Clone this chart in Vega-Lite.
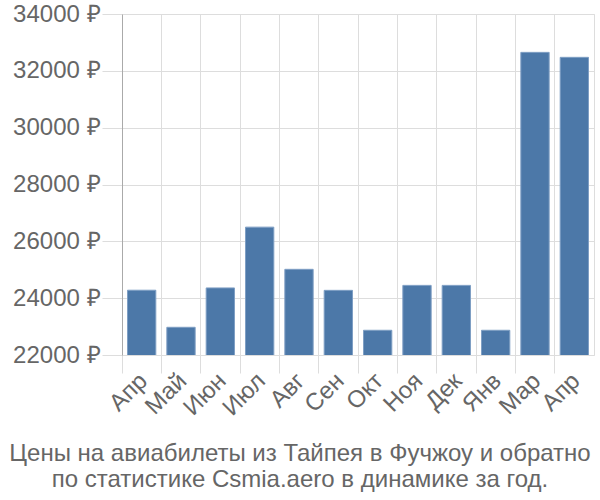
{
  "$schema": "https://vega.github.io/schema/vega-lite/v6.json",
  "width": 472,
  "height": 341,
  "autosize": {"type": "none"},
  "padding": {"left": 122, "top": 14, "right": 6, "bottom": 145},
  "background": "white",
  "config": {
    "view": {"stroke": "#dddddd", "strokeWidth": 1},
    "font": "Liberation Sans"
  },
  "title": {
    "text": ["Цены на авиабилеты из Тайпея в Фучжоу и обратно", "по статистике Csmia.aero в динамике за год."],
    "orient": "bottom",
    "anchor": "middle",
    "dx": -58,
    "offset": 22,
    "fontSize": 24,
    "fontWeight": "normal",
    "color": "#666666",
    "font": "Liberation Sans",
    "lineHeight": 26
  },
  "data": {
    "values": [
      {"i": 0, "m": "Апр", "v": 24280},
      {"i": 1, "m": "Май", "v": 22975},
      {"i": 2, "m": "Июн", "v": 24360},
      {"i": 3, "m": "Июл", "v": 26500},
      {"i": 4, "m": "Авг", "v": 25015},
      {"i": 5, "m": "Сен", "v": 24275},
      {"i": 6, "m": "Окт", "v": 22870},
      {"i": 7, "m": "Ноя", "v": 24450},
      {"i": 8, "m": "Дек", "v": 24450},
      {"i": 9, "m": "Янв", "v": 22870},
      {"i": 10, "m": "Мар", "v": 32650},
      {"i": 11, "m": "Апр ", "v": 32475}
    ]
  },
  "mark": {"type": "bar", "clip": true, "width": {"band": 0.72}, "fill": "#4c78a8", "stroke": "#7f9fc4", "strokeWidth": 1},
  "encoding": {
    "x": {
      "field": "m",
      "type": "nominal",
      "sort": null,
      "scale": {"paddingInner": 0, "paddingOuter": 0},
      "axis": {
        "title": null,
        "bandPosition": 0,
        "labelOffset": 2,
        "labelAngle": -45,
        "labelAlign": "right",
        "labelBaseline": "middle",
        "labelFontSize": 24,
        "labelColor": "#666666",
        "labelPadding": 4,
        "tickSize": 18,
        "tickColor": "#dddddd",
        "grid": true,
        "gridColor": "#dddddd",
        "domain": false
      }
    },
    "y": {
      "field": "v",
      "type": "quantitative",
      "scale": {"domain": [22000, 34000], "zero": false, "nice": false},
      "axis": {
        "title": null,
        "values": [22000, 24000, 26000, 28000, 30000, 32000, 34000],
        "labelExpr": "datum.value + ' ₽'",
        "labelFontSize": 24,
        "labelColor": "#666666",
        "labelPadding": 2,
        "tickSize": 20,
        "tickColor": "#dddddd",
        "grid": true,
        "gridColor": "#dddddd",
        "domain": true,
        "domainColor": "#aaaaaa"
      }
    }
  }
}
